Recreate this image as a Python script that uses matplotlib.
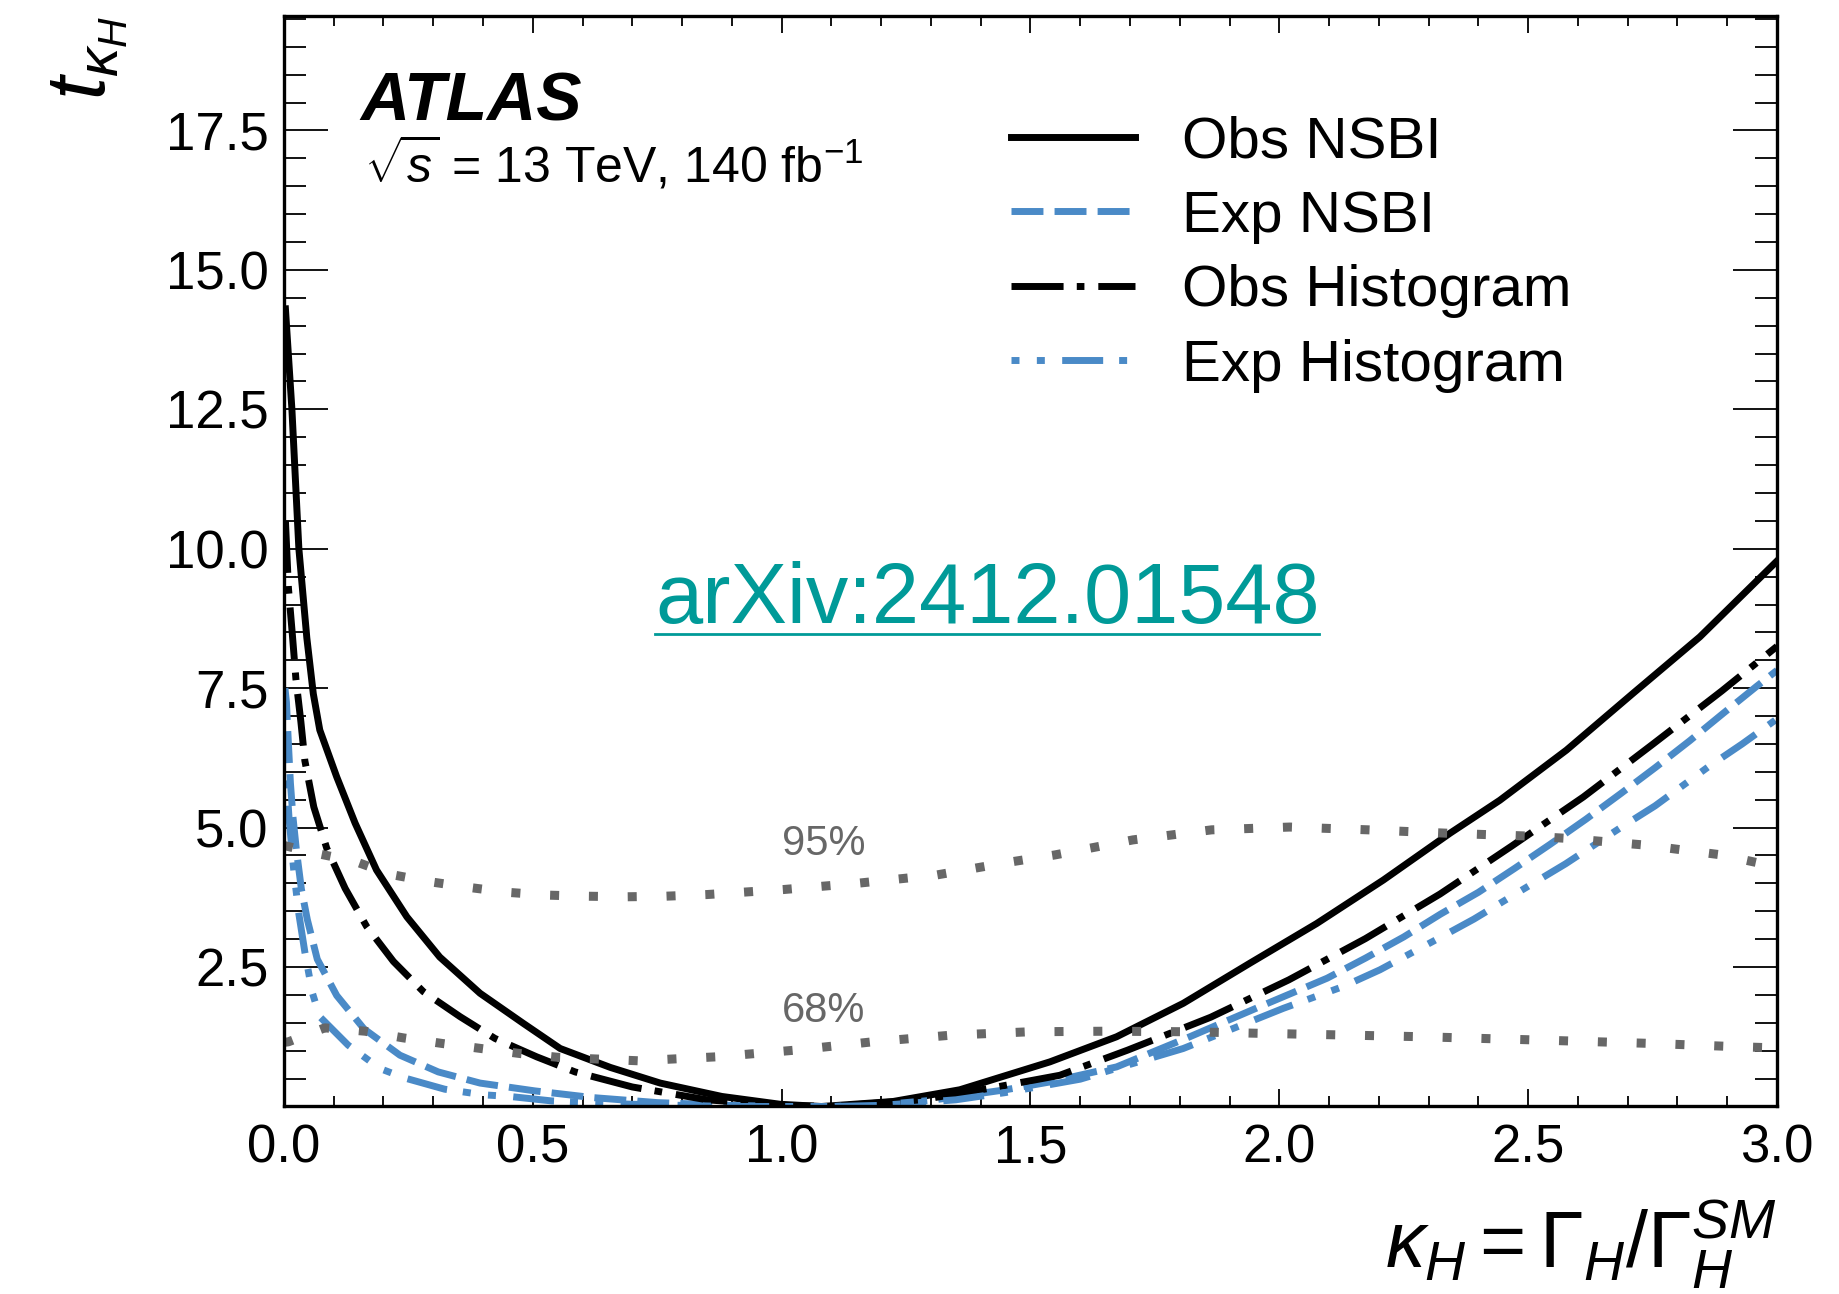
import matplotlib
matplotlib.use("Agg")
import matplotlib.pyplot as plt
from matplotlib.ticker import MultipleLocator, FixedLocator, FormatStrFormatter
from matplotlib.lines import Line2D

plt.rcParams['font.family'] = ['Liberation Sans', 'DejaVu Sans']
plt.rcParams['mathtext.fontset'] = 'custom'
plt.rcParams['mathtext.rm'] = 'Liberation Sans'
plt.rcParams['mathtext.it'] = 'Liberation Sans:italic'
plt.rcParams['mathtext.bf'] = 'Liberation Sans:bold'

# values
kappa_obs_nsbi = [0.003, 0.016, 0.030, 0.046, 0.059, 0.072, 0.106, 0.143, 0.186, 0.247, 0.313,
                  0.394, 0.481, 0.555, 0.656, 0.756, 0.88, 0.997, 1.08, 1.224, 1.358, 1.539,
                  1.673, 1.807, 1.941, 2.075, 2.209, 2.343, 2.443, 2.577, 2.711, 2.845, 3.0]
t_obs_nsbi = [14.3, 12.5, 10.0, 8.4, 7.4, 6.75, 5.91, 5.08, 4.24, 3.40, 2.68,
              2.03, 1.49, 1.04, 0.70, 0.42, 0.18, 0.04, 0.0, 0.09, 0.30, 0.80,
              1.25, 1.85, 2.57, 3.28, 4.06, 4.90, 5.49, 6.39, 7.41, 8.42, 9.78]

kappa_exp_nsbi = [0.002, 0.005, 0.009, 0.013, 0.018, 0.025, 0.035, 0.047, 0.067, 0.106, 0.161,
                  0.233, 0.310, 0.394, 0.504, 0.62, 0.75, 0.9, 1.0, 1.1, 1.2, 1.3, 1.45, 1.539,
                  1.673, 1.820, 1.974, 2.096, 2.173, 2.250, 2.324, 2.400, 2.473, 2.544, 2.616,
                  2.686, 2.756, 2.825, 2.892, 2.960, 3.0]
t_exp_nsbi = [7.5, 7.25, 6.5, 5.8, 5.2, 4.6, 3.9, 3.35, 2.64, 1.99, 1.39,
              0.92, 0.62, 0.42, 0.28, 0.16, 0.07, 0.02, 0.0, 0.0, 0.03, 0.11, 0.30, 0.44,
              0.71, 1.25, 1.84, 2.30, 2.66, 3.04, 3.45, 3.84, 4.27, 4.70, 5.15,
              5.61, 6.08, 6.56, 7.05, 7.54, 7.82]

kappa_obs_hist = [0.003, 0.009, 0.017, 0.024, 0.034, 0.042, 0.060, 0.086, 0.123, 0.166, 0.220,
                  0.280, 0.354, 0.424, 0.508, 0.585, 0.70, 0.85, 1.0, 1.1, 1.281, 1.42, 1.559,
                  1.695, 1.862, 2.019, 2.173, 2.323, 2.467, 2.611, 2.751, 2.889, 3.0]
t_obs_hist = [10.5, 9.3, 8.45, 7.67, 6.9, 6.2, 5.37, 4.63, 3.91, 3.23, 2.60,
              2.06, 1.61, 1.22, 0.89, 0.62, 0.35, 0.12, 0.02, 0.0, 0.12, 0.33, 0.56,
              1.01, 1.60, 2.27, 3.01, 3.81, 4.67, 5.55, 6.50, 7.45, 8.25]

kappa_exp_hist = [0.002, 0.01, 0.02, 0.03, 0.042, 0.057, 0.072, 0.129, 0.193, 0.243, 0.323,
                  0.400, 0.454, 0.538, 0.7, 0.9, 1.0, 1.1, 1.2, 1.35, 1.45, 1.600, 1.807,
                  2.008, 2.128, 2.202, 2.319, 2.391, 2.504, 2.575, 2.684, 2.755, 2.862, 2.930, 3.0]
t_exp_hist = [6.3, 5.2, 4.2, 3.45, 2.77, 2.04, 1.61, 1.10, 0.68, 0.51, 0.31,
              0.21, 0.18, 0.10, 0.04, 0.0, 0.0, 0.0, 0.02, 0.12, 0.25, 0.49, 1.04,
              1.76, 2.15, 2.45, 3.01, 3.36, 3.97, 4.35, 4.99, 5.39, 6.09, 6.50, 6.95]

kappa_68 = [0.0, 0.009, 0.082, 0.163, 0.240, 0.318, 0.396, 0.474, 0.553, 0.632, 0.711, 0.868,
            1.027, 1.183, 1.342, 1.499, 1.66, 1.817, 1.972, 2.14, 2.289, 2.527, 2.75, 2.926, 3.0]
t_68 = [1.15, 1.16, 1.41, 1.35, 1.23, 1.13, 1.04, 0.95, 0.88, 0.85, 0.82, 0.89,
        1.01, 1.16, 1.28, 1.34, 1.35, 1.34, 1.31, 1.28, 1.25, 1.19, 1.13, 1.07, 1.05]

kappa_95 = [0.0, 0.064, 0.141, 0.215, 0.293, 0.370, 0.449, 0.528, 0.608, 0.689, 0.766, 0.85,
            1.004, 1.15, 1.311, 1.45, 1.549, 1.706, 1.864, 2.021, 2.179, 2.336, 2.495, 2.573,
            2.731, 2.889, 2.966, 3.0]
t_95 = [4.68, 4.54, 4.40, 4.16, 4.03, 3.93, 3.84, 3.79, 3.77, 3.76, 3.77, 3.80,
        3.89, 4.0, 4.15, 4.37, 4.51, 4.78, 4.96, 5.01, 4.96, 4.90, 4.85, 4.81,
        4.69, 4.51, 4.36, 4.30]

xticks = [0.0, 0.5, 1.0, 1.5, 2.0, 2.5, 3.0]
yticks = [2.5, 5.0, 7.5, 10.0, 12.5, 15.0, 17.5]

blue = '#4a8ac7'
grey = '#676767'
lw = 5.0

fig = plt.figure(figsize=(18.39, 12.94), dpi=100)
ax = fig.add_axes([0.1544, 0.1449, 0.8119, 0.8427])

ax.plot(kappa_obs_nsbi, t_obs_nsbi, color='black', lw=lw, label='Obs NSBI')
ax.plot(kappa_exp_nsbi, t_exp_nsbi, color=blue, lw=lw, dashes=(4.6, 1.6), label='Exp NSBI')
ax.plot(kappa_obs_hist, t_obs_hist, color='black', lw=lw, linestyle=(0, (7.5, 1.9, 1.1, 2.0)),
        label='Obs Histogram')
ax.plot(kappa_exp_hist, t_exp_hist, color=blue, lw=lw,
        linestyle=(8.2, (5.9, 2.3, 1.15, 2.5, 1.15, 2.5)), label='Exp Histogram')

# threshold lines (grey squares)
ax.plot(kappa_68, t_68, color=grey, lw=6.5, dashes=(1, 3.3))
ax.plot(kappa_95, t_95, color=grey, lw=6.5, dashes=(1, 3.3))
ax.text(1.085, 1.72, '68%', color=grey, fontsize=30, ha='center', va='center')
ax.text(1.085, 4.70, '95%', color=grey, fontsize=30, ha='center', va='center')

ax.set_xlim(0, 3)
ax.set_ylim(0, 19.55)
ax.xaxis.set_major_locator(FixedLocator(xticks))
ax.xaxis.set_minor_locator(MultipleLocator(0.1))
ax.xaxis.set_major_formatter(FormatStrFormatter('%.1f'))
ax.yaxis.set_major_locator(FixedLocator(yticks))
ax.yaxis.set_minor_locator(MultipleLocator(0.5))
ax.yaxis.set_major_formatter(FormatStrFormatter('%.1f'))

ax.tick_params(which='both', direction='in', top=True, right=True, width=1.3)
ax.tick_params(axis='x', which='major', length=12, labelsize=38, pad=12)
ax.tick_params(axis='x', which='minor', length=7)
ax.tick_params(axis='y', which='major', length=32, labelsize=38, pad=11)
ax.tick_params(axis='y', which='minor', length=16)
for s in ax.spines.values():
    s.set_linewidth(2.4)

ax.set_xlabel(r'$\kappa_H = \Gamma_H/\Gamma_H^{SM}$', loc='right', fontsize=57, labelpad=17)
ax.set_ylabel(r'$t_{\kappa_H}$', loc='top', fontsize=60, labelpad=26)

ax.text(0.051, 0.904, 'ATLAS', transform=ax.transAxes, fontsize=49,
        fontweight='bold', fontstyle='italic', va='baseline')
ax.text(0.0535, 0.848, r'$\sqrt{s}$ = 13 TeV, 140 fb$^{-1}$', transform=ax.transAxes,
        fontsize=36, va='baseline')

ax.legend(loc='upper left', bbox_to_anchor=(0.487, 0.909), frameon=False, fontsize=42,
          handlelength=2.13, handletextpad=0.8, labelspacing=0.35, borderpad=0,
          borderaxespad=0)

teal = '#009a98'
arx = ax.text(0.2485, 0.4434, 'arXiv:2412.01548', transform=ax.transAxes, color=teal,
              fontsize=61, va='baseline')

# underline for the link
fig.canvas.draw()
bb = arx.get_window_extent()
base_y = ax.transAxes.transform((0.2485, 0.4434))[1]
p0 = fig.transFigure.inverted().transform((bb.x0, base_y - 11))
p1 = fig.transFigure.inverted().transform((bb.x1, base_y - 11))
fig.add_artist(Line2D([p0[0], p1[0]], [p0[1], p1[1]], transform=fig.transFigure,
                      color=teal, lw=2.0))

fig.savefig('out.png', dpi=100)
